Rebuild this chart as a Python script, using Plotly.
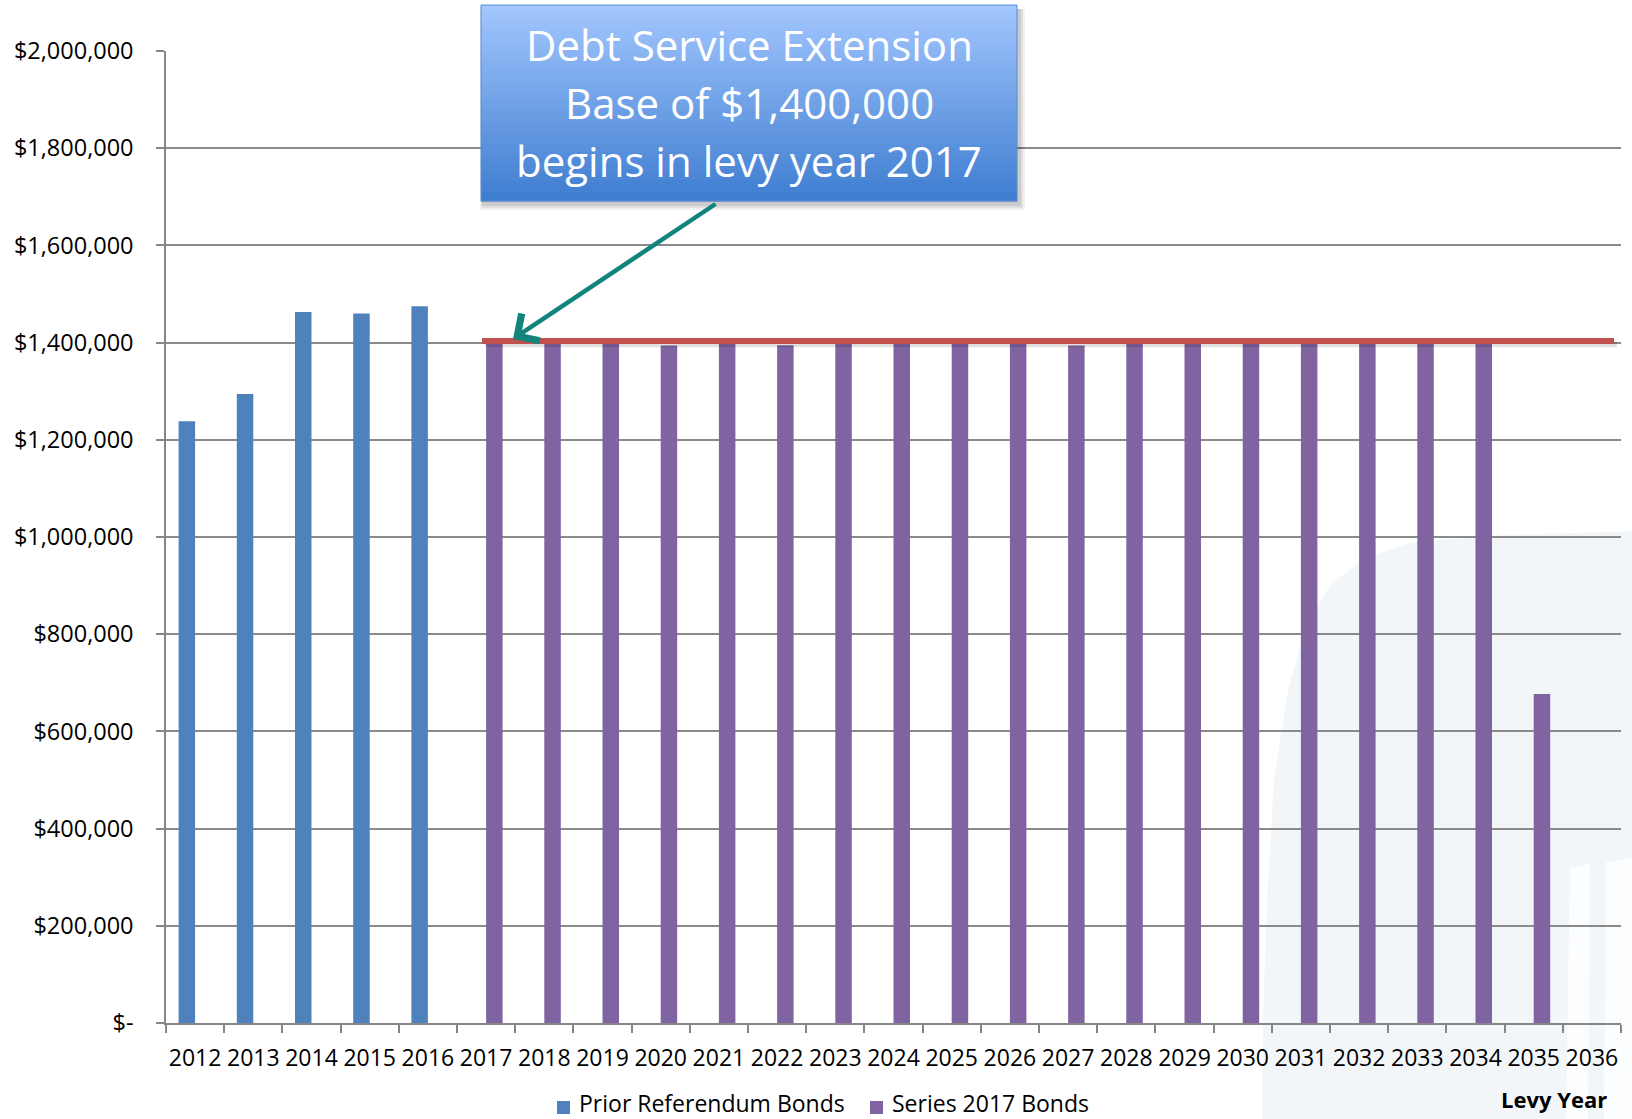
import plotly.graph_objects as go

# ---------------- data ----------------
years = [str(y) for y in range(2012, 2037)]
prior_referendum_bonds = [1238000, 1294000, 1463000, 1460000, 1475000] + [None] * 20
series_2017_bonds = [None] * 5 + [
    1400500, 1401000, 1400000, 1394000, 1400800, 1394500, 1400200, 1400900, 1400300,
    1400600, 1394000, 1400400, 1400700, 1400100, 1400800, 1400500, 1400300, 1400600,
    677000, None]
y_tickvals = [0, 200000, 400000, 600000, 800000, 1000000, 1200000, 1400000, 1600000, 1800000, 2000000]
y_ticktext = ["$-", "$200,000", "$400,000", "$600,000", "$800,000", "$1,000,000",
              "$1,200,000", "$1,400,000", "$1,600,000", "$1,800,000", "$2,000,000"]
base_level = 1403500
base_start_year = "2017"
callout_lines = ["Debt Service Extension", "Base of $1,400,000", "begins in levy year 2017"]
series_names = ["Prior Referendum Bonds", "Series 2017 Bonds"]
series_colors = ["#4f81bd", "#8064a2"]

# ---------------- layout geometry ----------------
W, H = 1632, 1119
L, R, T, B = 166, 1621, 51, 1023
FONT = "Open Sans"


def px2x(px):
    return (px - L) / (R - L)


def py2y(py):
    return (B - py) / (B - T)


fig = go.Figure()
for name, vals, col in zip(series_names, [prior_referendum_bonds, series_2017_bonds], series_colors):
    fig.add_trace(go.Bar(x=years, y=vals, name=name, showlegend=False,
                         marker=dict(color=col, line=dict(width=0))))

shapes = []
annotations = []

# faint watermark (bottom right)
wm_pts = [(1262, 1119), (1263, 1020), (1267, 900), (1274, 780), (1288, 690), (1305, 630),
          (1330, 585), (1365, 558), (1410, 543), (1480, 536), (1632, 531), (1632, 1119)]
path = "M " + " L ".join(f"{px2x(a):.5f},{py2y(b):.5f}" for a, b in wm_pts) + " Z"
shapes.append(dict(type="path", xref="paper", yref="paper", path=path,
                   fillcolor="#f3f6f9", line=dict(width=0), layer="below"))
for pts in [[(1570, 868), (1590, 864), (1588, 1119), (1566, 1119)],
            [(1606, 862), (1632, 858), (1632, 1119), (1604, 1119)]]:
    path = "M " + " L ".join(f"{px2x(a):.5f},{py2y(b):.5f}" for a, b in pts) + " Z"
    shapes.append(dict(type="path", xref="paper", yref="paper", path=path,
                       fillcolor="#fcfdfe", line=dict(width=0), layer="below"))

# base line ($1.4M) with soft shadow
i0 = years.index(base_start_year)
x0 = i0 - 0.07
x1 = len(years) - 1 + 0.38
shapes.append(dict(type="line", xref="x", yref="y", x0=x0 + 0.05, x1=x1 + 0.05,
                   y0=base_level - 7000, y1=base_level - 7000,
                   line=dict(color="rgba(0,0,0,0.12)", width=6)))
shapes.append(dict(type="line", xref="x", yref="y", x0=x0, x1=x1, y0=base_level, y1=base_level,
                   line=dict(color="#c0504d", width=6)))

# call-out box: shadow + vertical gradient
bx0, bx1, by0, by1 = 481, 1017, 5, 201
for k, op in [(6, 0.05), (4, 0.07), (2, 0.09)]:
    shapes.append(dict(type="rect", xref="paper", yref="paper",
                       x0=px2x(bx0 + 2 - k / 2), x1=px2x(bx1 + 2 + k),
                       y0=py2y(by1 + 3 + k), y1=py2y(by0 + 4),
                       fillcolor=f"rgba(0,0,0,{op})", line=dict(width=0)))
N = 60
top_c = (162, 198, 254)
bot_c = (62, 125, 208)
for i in range(N):
    t = i / (N - 1)
    c = tuple(round(top_c[j] + (bot_c[j] - top_c[j]) * t) for j in range(3))
    ya = by0 + (by1 - by0) * i / N
    yb = by0 + (by1 - by0) * (i + 1) / N
    shapes.append(dict(type="rect", xref="paper", yref="paper",
                       x0=px2x(bx0), x1=px2x(bx1), y0=py2y(yb + 0.5), y1=py2y(ya),
                       fillcolor=f"rgb{c}", line=dict(width=0)))
shapes.append(dict(type="rect", xref="paper", yref="paper",
                   x0=px2x(bx0), x1=px2x(bx1), y0=py2y(by1), y1=py2y(by0),
                   fillcolor="rgba(0,0,0,0)", line=dict(color="#5b8bd0", width=1)))

for txt, yc in zip(callout_lines, [45, 103, 160]):
    annotations.append(dict(text=txt, xref="paper", yref="paper", x=px2x(749), y=py2y(yc),
                            xanchor="center", yanchor="middle", showarrow=False,
                            font=dict(family=FONT, size=42, color="#ffffff")))

# arrow from call-out to base line
annotations.append(dict(text="", xref="paper", yref="paper", x=px2x(513), y=py2y(339),
                        ax=717 - 513, ay=203 - 339, axref="pixel", ayref="pixel",
                        showarrow=True, arrowhead=4, arrowsize=1.4, arrowwidth=4.5,
                        arrowcolor="#11857c"))

# manual legend (bottom centre)
legend_items = [(557, series_names[0], series_colors[0]), (870, series_names[1], series_colors[1])]
for lx, name, col in legend_items:
    shapes.append(dict(type="rect", xref="paper", yref="paper",
                       x0=px2x(lx), x1=px2x(lx + 13), y0=py2y(1114), y1=py2y(1101),
                       fillcolor=col, line=dict(width=0)))
    annotations.append(dict(text=name, xref="paper", yref="paper", x=px2x(lx + 20), y=py2y(1121),
                            xanchor="left", yanchor="bottom", showarrow=False,
                            font=dict(family=FONT, size=23, color="#000000")))

annotations.append(dict(text="<b>Levy Year</b>", xref="paper", yref="paper",
                        x=px2x(1609), y=py2y(1099), xanchor="right", yanchor="middle",
                        showarrow=False, font=dict(family=FONT, size=22, color="#000000")))

fig.update_layout(
    width=W, height=H, autosize=False,
    margin=dict(l=L, r=W - R, t=T, b=H - B, pad=0),
    paper_bgcolor="#ffffff", plot_bgcolor="rgba(0,0,0,0)",
    barmode="group", bargap=0.433, bargroupgap=0,
    font=dict(family=FONT, size=23, color="#000000"),
    showlegend=False,
    shapes=shapes, annotations=annotations,
)
fig.update_xaxes(type="category", categoryorder="array", categoryarray=years,
                 showline=True, linecolor="#868686", linewidth=1.5,
                 ticks="outside", tickson="boundaries", ticklen=8, tickcolor="#868686",
                 tickwidth=1.5, showgrid=False, tickangle=0, ticklabelstandoff=14,
                 tickfont=dict(family=FONT, size=23, color="#000000"), fixedrange=True)
fig.update_yaxes(range=[0, 2000000], tickvals=y_tickvals, ticktext=y_ticktext,
                 showline=True, linecolor="#868686", linewidth=1.5,
                 ticks="outside", ticklen=8, tickcolor="#868686", tickwidth=1.5,
                 showgrid=True, gridcolor="#8a8a8a", gridwidth=1.5, zeroline=False,
                 ticklabelstandoff=18,
                 tickfont=dict(family=FONT, size=23.5, color="#000000"), fixedrange=True)

fig.write_html("out.html")
